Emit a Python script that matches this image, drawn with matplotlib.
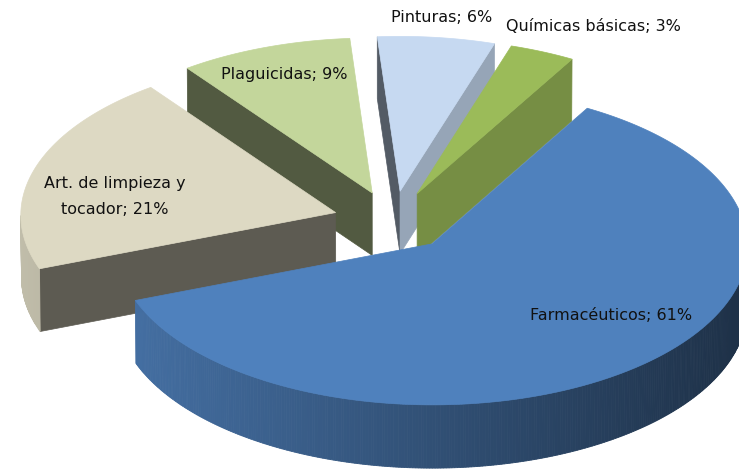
import numpy as np
import matplotlib
matplotlib.use("Agg")
import matplotlib.pyplot as plt
from matplotlib.patches import Polygon
from matplotlib.colors import to_rgb

# data, in the order the slices run clockwise
# shares; the labels show them rounded
categories = ["Farmacéuticos", "Art. de limpieza y\ntocador", "Plaguicidas",
              "Pinturas", "Químicas básicas"]
shares = [60.9, 20.6, 9.0, 6.1, 3.4]

# look of the slices
top_colors = ["#4F81BD", "#DDD9C3", "#C3D69B", "#C6D9F1", "#9BBB59"]
explode = [0.19, 0.19, 0.19, 0.19, 0.19]
# label placement: (radius fraction, angle shift in degrees)
label_place = [(0.72, -11), (0.71, -8), (0.81, 0), (1.13, 0), (1.22, 4)]

START = 30.0          # first slice angle, degrees clockwise from the back
DEPTH = 0.23          # thickness of the pie (radius = 1)
ELEV = np.radians(30.1)
CAM_DIST = 60.0
SCALE = 315.0
CX, CY = 393.0, 221.0

cam = np.array([0.0, -CAM_DIST * np.cos(ELEV), CAM_DIST * np.sin(ELEV)])


def project(pts):
    pts = np.asarray(pts, dtype=float)
    rel = pts - cam
    se, ce = np.sin(ELEV), np.cos(ELEV)
    xc = rel[:, 0]
    yc = rel[:, 1] * se + rel[:, 2] * ce
    zc = rel[:, 1] * ce - rel[:, 2] * se
    u = CX + SCALE * xc / zc * CAM_DIST
    v = CY - SCALE * yc / zc * CAM_DIST
    return np.column_stack([u, v])


def rim(ox, oy, phi, z):
    r = np.radians(phi)
    return np.column_stack([ox + np.sin(r), oy + np.cos(r), np.full_like(r, z)])


def shade(color, f):
    return tuple(min(1.0, c * f) for c in to_rgb(color))


def faces_camera(normal, point):
    return np.dot(normal, cam - point) > 0


fig = plt.figure(figsize=(7.39, 4.70), dpi=100)
ax = fig.add_axes([0, 0, 1, 1])
ax.set_xlim(0, 739)
ax.set_ylim(470, 0)
ax.axis("off")

total = float(sum(shares))
slices = []
a0 = START
for i, s in enumerate(shares):
    a1 = a0 + 360.0 * s / total
    mid = np.radians((a0 + a1) / 2)
    ox, oy = explode[i] * np.sin(mid), explode[i] * np.cos(mid)
    cen = np.array([ox + 0.5 * np.sin(mid), oy + 0.5 * np.cos(mid), 0.0])
    slices.append((i, a0, a1, ox, oy, np.linalg.norm(cen - cam)))
    a0 = a1

# back to front
for i, a0, a1, ox, oy, _ in sorted(slices, key=lambda t: -t[5]):
    col = top_colors[i]
    apex_t = np.array([ox, oy, 0.0])
    apex_b = np.array([ox, oy, -DEPTH])

    # flat radial faces
    for ang, norm_ang, f in [(a0, a0 - 90, 0.42), (a1, a1 + 90, 0.76)]:
        rn = np.radians(norm_ang)
        normal = np.array([np.sin(rn), np.cos(rn), 0.0])
        edge_t = rim(ox, oy, np.array([ang]), 0.0)[0]
        edge_b = rim(ox, oy, np.array([ang]), -DEPTH)[0]
        if faces_camera(normal, (apex_t + edge_b) / 2):
            quad = project([apex_t, edge_t, edge_b, apex_b])
            ax.add_patch(Polygon(quad, closed=True, facecolor=shade(col, f),
                                 edgecolor=shade(col, f), lw=0.5))

    # curved outer wall, in thin strips so it can carry a gradient
    phis = np.linspace(a0, a1, max(4, int((a1 - a0) * 2)))
    top = rim(ox, oy, phis, 0.0)
    bot = rim(ox, oy, phis, -DEPTH)
    for j in range(len(phis) - 1):
        pm = np.radians((phis[j] + phis[j + 1]) / 2)
        normal = np.array([np.sin(pm), np.cos(pm), 0.0])
        if not faces_camera(normal, top[j]):
            continue
        f = 0.62 - 0.25 * np.sin(pm)
        quad = project([top[j], top[j + 1], bot[j + 1], bot[j]])
        ax.add_patch(Polygon(quad, closed=True, facecolor=shade(col, f),
                             edgecolor=shade(col, f), lw=0.6))

    # top face
    poly = project(np.vstack([apex_t, top]))
    ax.add_patch(Polygon(poly, closed=True, facecolor=col, edgecolor=col, lw=0.5))

# labels
for i, a0, a1, ox, oy, _ in slices:
    rf, shift = label_place[i]
    m = np.radians((a0 + a1) / 2 + shift)
    p = project([[ox + rf * np.sin(m), oy + rf * np.cos(m), 0.0]])[0]
    ax.text(p[0], p[1], f"{categories[i]}; {round(shares[i])}%", ha="center",
            va="center", fontsize=11.5, color="#111111", linespacing=1.9)

fig.savefig("out.png", dpi=100)
